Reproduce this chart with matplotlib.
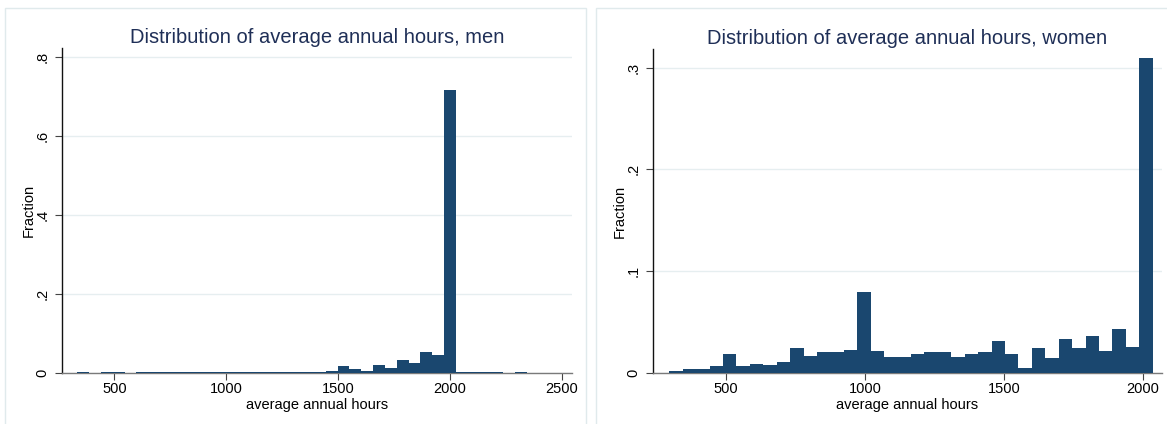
import numpy as np
import matplotlib.pyplot as plt
from matplotlib.patches import Rectangle

plt.rcParams['font.family'] = ['Liberation Sans', 'DejaVu Sans']

# histogram of average annual hours, men: 38 bins
men_start = 334.0
men_width = 52.9
men_frac = [0.001, 0.0, 0.001, 0.001, 0.0, 0.001, 0.001, 0.001, 0.001, 0.0008,
            0.001, 0.001, 0.003, 0.001, 0.001, 0.0008, 0.002, 0.002, 0.002, 0.002,
            0.002, 0.004, 0.017, 0.009, 0.004, 0.019, 0.012, 0.032, 0.025, 0.052,
            0.045, 0.717, 0.001, 0.001, 0.001, 0.001, 0.0, 0.001]

# histogram of average annual hours, women: 36 bins
women_start = 296.0
women_width = 48.33
women_frac = [0.0016, 0.0039, 0.0039, 0.0066, 0.0184, 0.0066, 0.0085, 0.0075, 0.0105,
              0.0243, 0.0164, 0.0203, 0.0203, 0.0223, 0.0793, 0.0213, 0.0154, 0.0154,
              0.0184, 0.0203, 0.0203, 0.0154, 0.0184, 0.0203, 0.0315, 0.0184, 0.0046,
              0.0243, 0.0144, 0.0331, 0.0243, 0.0361, 0.0213, 0.0429, 0.0252, 0.310]

men_xticks = [500, 1000, 1500, 2000, 2500]
men_yticks = [0, 0.2, 0.4, 0.6, 0.8]
men_ylabels = ['0', '.2', '.4', '.6', '.8']
women_xticks = [500, 1000, 1500, 2000]
women_yticks = [0, 0.1, 0.2, 0.3]
women_ylabels = ['0', '.1', '.2', '.3']

W, H = 1167, 424
BAR = '#1a476f'
TITLE = '#1f2f57'
GRID = '#e6eef0'
FRAME = '#e0eaec'

fig = plt.figure(figsize=(W / 100, H / 100), dpi=100)
fig.patch.set_facecolor('white')

# light frames around each graph
for x0, x1 in [(5.3, 585.7), (596.0, 1180.0)]:
    fig.add_artist(Rectangle((x0 / W, -0.05), (x1 - x0) / W, (H - 8.3) / H + 0.05,
                             transform=fig.transFigure, fill=False,
                             edgecolor=FRAME, linewidth=1.0))


def draw(rect, start, width, frac, xlim, ylim, xticks, yticks, ylabels, title):
    l, r, top, bot = rect
    ax = fig.add_axes([l / W, (H - bot) / H, (r - l) / W, (bot - top) / H])
    frac = np.array(frac)
    edges = start + width * np.arange(len(frac))
    ax.bar(edges, frac, width=width, align='edge', color=BAR,
           linewidth=0, zorder=3)
    ax.set_xlim(*xlim)
    ax.set_ylim(*ylim)
    ax.set_xticks(xticks)
    ax.set_xticklabels([str(t) for t in xticks], fontsize=10.5)
    ax.set_yticks(yticks)
    ax.set_yticklabels(ylabels, fontsize=10.5, rotation=90, va='center')
    ax.yaxis.grid(True, color=GRID, linewidth=1.0, zorder=0)
    ax.set_axisbelow(True)
    for s in ['top', 'right']:
        ax.spines[s].set_visible(False)
    ax.spines['left'].set_color('#111111')
    ax.spines['left'].set_linewidth(1.0)
    ax.spines['bottom'].set_color('#7a7a7a')
    ax.spines['bottom'].set_linewidth(1.0)
    ax.tick_params(axis='y', length=5, width=0.8, color='#444444', pad=4)
    ax.tick_params(axis='x', length=5, width=0.8, color='#444444', pad=2)
    ax.set_xlabel('average annual hours', fontsize=10.5, labelpad=1)
    ax.set_ylabel('Fraction', fontsize=10.5, labelpad=0)
    ax.set_title(title, fontsize=14.5, color=TITLE, pad=4)
    return ax


draw((62.0, 572.0, 48.3, 372.7), men_start, men_width, men_frac,
     (266, 2546), (0, 0.8228), men_xticks, men_yticks, men_ylabels,
     'Distribution of average annual hours, men')
draw((653.3, 1161.7, 49.3, 372.7), women_start, women_width, women_frac,
     (238.5, 2068), (0, 0.3181), women_xticks, women_yticks, women_ylabels,
     'Distribution of average annual hours, women')

fig.savefig('out.png', dpi=100)
